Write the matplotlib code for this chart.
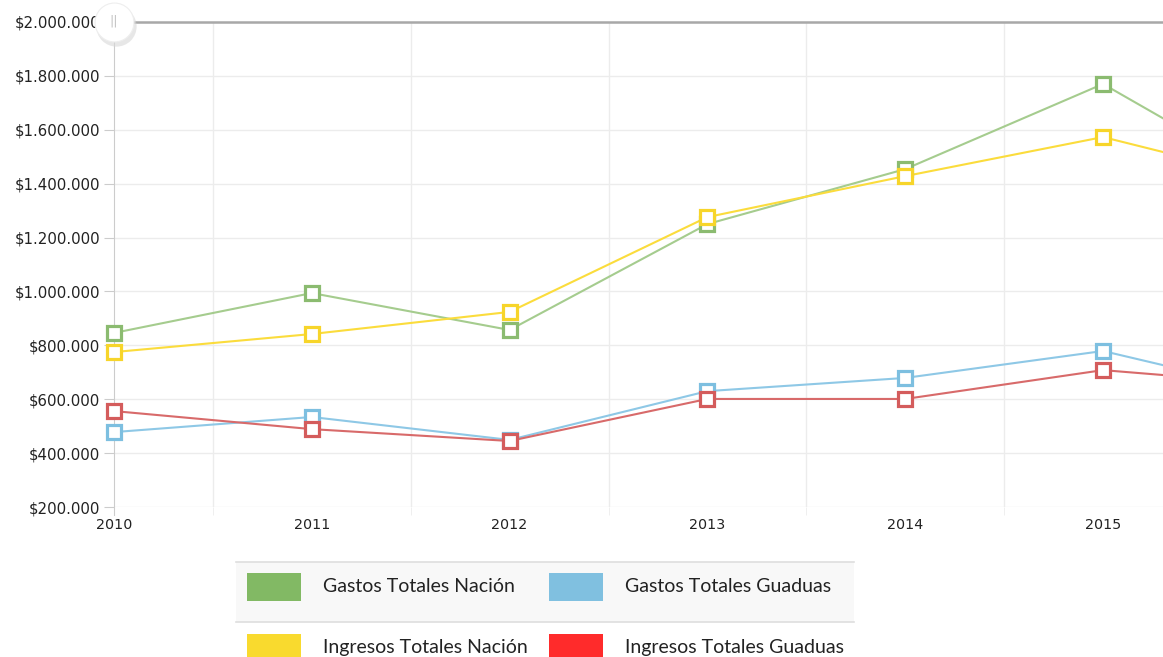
import matplotlib
matplotlib.use("Agg")
import matplotlib.pyplot as plt
from matplotlib.patches import Rectangle
from matplotlib.ticker import FuncFormatter, MultipleLocator
import numpy as np

plt.rcParams["font.family"] = ["DejaVu Sans"]

#%%--data, 2016 is only partly visible at right edge--#
years = [2010, 2011, 2012, 2013, 2014, 2015, 2016]
gastos_nacion = [846000, 994000, 857000, 1250000, 1454000, 1770000, 1350000]
ingresos_nacion = [775000, 842000, 924000, 1276000, 1428000, 1573000, 1390000]
gastos_guaduas = [478000, 534000, 449000, 630000, 679000, 779000, 606000]
ingresos_guaduas = [556000, 489000, 445000, 601000, 601000, 708000, 648000]

names = ["Gastos Totales Nación", "Gastos Totales Guaduas",
         "Ingresos Totales Nación", "Ingresos Totales Guaduas"]
series = [gastos_nacion, gastos_guaduas, ingresos_nacion, ingresos_guaduas]
line_cols = ["#a5cc8e", "#8ec8e6", "#fbdc3c", "#d86a6a"]
mark_cols = ["#8bbb70", "#7dbfe0", "#f7d52a", "#d45c5c"]
legend_cols = ["#82b964", "#80c0e0", "#f9da2e", "#ff2b2b"]

#%%--figure--#
W, H = 1163, 657
fig = plt.figure(figsize=(W / 100, H / 100), dpi=100)
ax = fig.add_axes([114 / W, 1 - 507 / H, 1 - 114 / W, (507 - 22) / H])

for vals, lc, mc in zip(series, line_cols, mark_cols):
    ax.plot(years, vals, color=lc, lw=1.5, zorder=3)
    ax.plot(years, vals, ls="none", marker="s", ms=9.5, mfc="white",
            mec=mc, mew=2.3, zorder=4, clip_on=False)

ax.yaxis.set_major_locator(MultipleLocator(200000))
ax.yaxis.set_major_formatter(FuncFormatter(lambda v, p: "$" + f"{int(v):,}".replace(",", ".")))
ax.set_xticks(years[:-1])
ax.set_xticks(np.arange(2010.5, 2016, 1), minor=True)
ax.set_xlim(2010, 2010 + (W - 114) / 197.8)
ax.set_ylim(200000, 2000000)

ax.grid(axis="y", which="major", color="#ececec", lw=1)
ax.grid(axis="x", which="minor", color="#ececec", lw=1)
ax.tick_params(axis="x", which="major", length=0, pad=8, labelsize=10.3, colors="#222222")
ax.tick_params(axis="x", which="minor", length=6, color="#ececec")
ax.tick_params(axis="y", length=7, color="#cccccc", labelsize=10.8, pad=3, labelcolor="#222222")

for s in ["top", "right", "bottom"]:
    ax.spines[s].set_visible(False)
ax.spines["left"].set_color("#cccccc")
ax.spines["left"].set_bounds(200000 - 30000, 2000000)

# top scroll line and handle
ax.axhline(2000000, color="#a8a8a8", lw=1.8, zorder=5, clip_on=False)
ax.plot([2010.01], [1985000], marker="o", ms=29, mfc="#d8d8d8", mec="none",
        clip_on=False, zorder=6, alpha=0.6)
ax.plot([2010], [2000000], marker="o", ms=28, mfc="white", mec="#eeeeee",
        mew=0.8, clip_on=False, zorder=7)
ax.text(2010, 2005000, "||", ha="center", va="center", fontsize=9,
        color="#c0c0c0", zorder=8, clip_on=False)

#%%--legend drawn in pixel coords--#
lg = fig.add_axes([0, 0, 1, (H - 540) / H])
lg.set_xlim(0, W)
lg.set_ylim(H, 540)
lg.axis("off")
lg.add_patch(Rectangle((236, 562), 854 - 236, 60, fc="#f8f8f8", ec="none"))
lg.plot([236, 854], [562, 562], color="#dedede", lw=1.2)
lg.plot([236, 854], [622, 622], color="#dedede", lw=1.2)
pos = [(247, 573), (549, 573), (247, 634), (549, 634)]
for (x0, y0), nm, c in zip(pos, names, legend_cols):
    lg.add_patch(Rectangle((x0, y0), 54, 28, fc=c, ec="none"))
    lg.text(x0 + 76, y0 + 13, nm, fontsize=14, family="Lato",
            color="#222222", va="center", ha="left")

fig.savefig("out.png", dpi=100)
